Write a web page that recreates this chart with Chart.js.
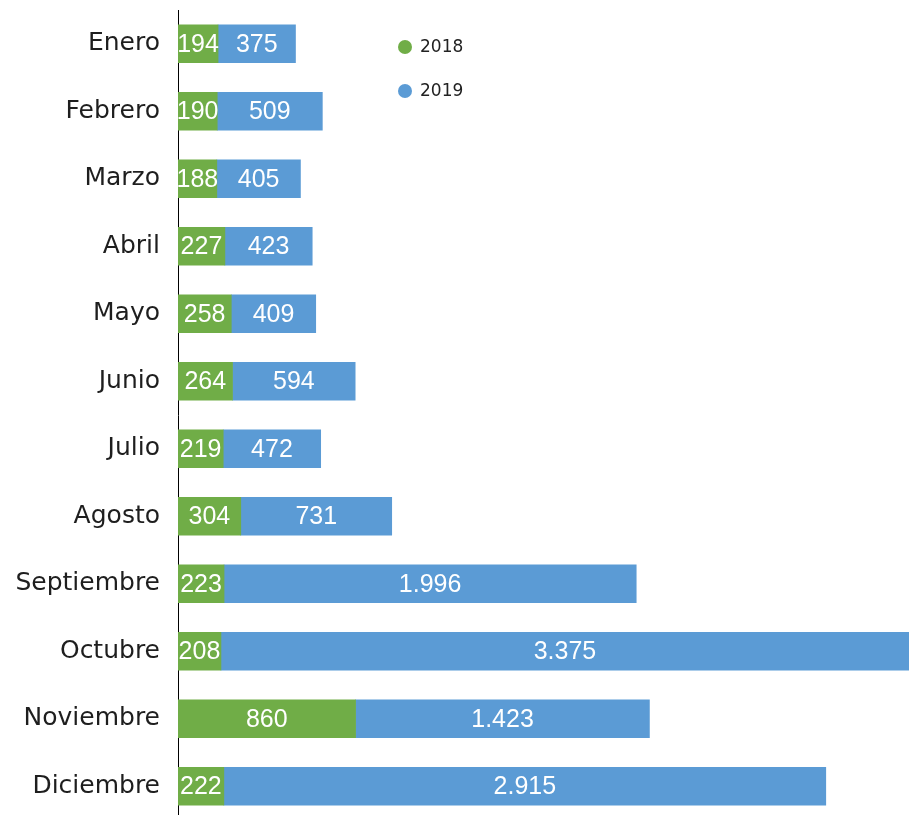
<!DOCTYPE html>
<html><head><meta charset="utf-8">
<script src="https://cdn.jsdelivr.net/npm/chart.js@4"></script>
<style>
html,body{margin:0;padding:0;background:#fff;overflow:hidden;}
#wrap{width:909px;height:820px;position:relative;}
</style></head>
<body>
<div id="wrap"><canvas id="c"></canvas></div>
<script>
const categories = ["Enero","Febrero","Marzo","Abril","Mayo","Junio","Julio","Agosto","Septiembre","Octubre","Noviembre","Diciembre"];
const seriesNames = ["2018","2019"];
const values2018 = [194,190,188,227,258,264,219,304,223,208,860,222];
const values2019 = [375,509,405,423,409,594,472,731,1996,3375,1423,2915];
const colors = ["#70AD47","#5B9BD5"];
const xMax = 3540;

function fmt(v){ return v.toString().replace(/\B(?=(\d{3})+(?!\d))/g, "."); }

const barLabels = {
  id:'barLabels',
  afterDatasetsDraw(chart){
    const ctx = chart.ctx;
    const area = chart.chartArea;
    ctx.save();
    ctx.fillStyle = '#fff';
    ctx.font = '25px "Liberation Sans", Arial, sans-serif';
    ctx.textAlign = 'center';
    ctx.textBaseline = 'middle';
    chart.data.datasets.forEach((ds,i)=>{
      const meta = chart.getDatasetMeta(i);
      meta.data.forEach((el,j)=>{
        const right = Math.min(el.x, area.right);
        const cx = (right + el.base)/2;
        ctx.fillText(fmt(ds.data[j]), cx, el.y+1);
      });
    });
    ctx.restore();
  }
};

const customLegend = {
  id:'customLegend',
  afterDraw(chart){
    const ctx = chart.ctx;
    ctx.save();
    ctx.font = '17px "DejaVu Sans", sans-serif';
    ctx.textBaseline = 'middle';
    ctx.textAlign = 'left';
    chart.data.datasets.forEach((ds,i)=>{
      const y = 47 + i*44;
      ctx.fillStyle = ds.backgroundColor;
      ctx.beginPath(); ctx.arc(405, y, 7, 0, Math.PI*2); ctx.fill();
      ctx.fillStyle = '#222';
      ctx.fillText(ds.label, 420, y+1);
    });
    ctx.restore();
  }
};

new Chart(document.getElementById('c'), {
  type:'bar',
  data:{
    labels: categories,
    datasets:[
      {label:seriesNames[0], data:values2018, backgroundColor:colors[0], barThickness:38},
      {label:seriesNames[1], data:values2019, backgroundColor:colors[1], barThickness:38}
    ]
  },
  options:{
    indexAxis:'y',
    responsive:true,
    maintainAspectRatio:false,
    animation:false,
    layout:{padding:{top:10,right:0,bottom:0,left:0}},
    plugins:{legend:{display:false}, tooltip:{enabled:false}},
    scales:{
      x:{stacked:true, display:false, min:0, max:xMax},
      y:{stacked:true,
        grid:{display:false, drawTicks:false},
        border:{display:true, color:'#000', width:1},
        ticks:{color:'#1e1e1e', font:{family:'"DejaVu Sans", sans-serif', size:25}, padding:18},
        afterFit(s){ s.width = 178; s.paddingTop = 0; s.paddingBottom = 0; }
      }
    }
  },
  plugins:[barLabels, customLegend]
});
</script>
</body></html>
